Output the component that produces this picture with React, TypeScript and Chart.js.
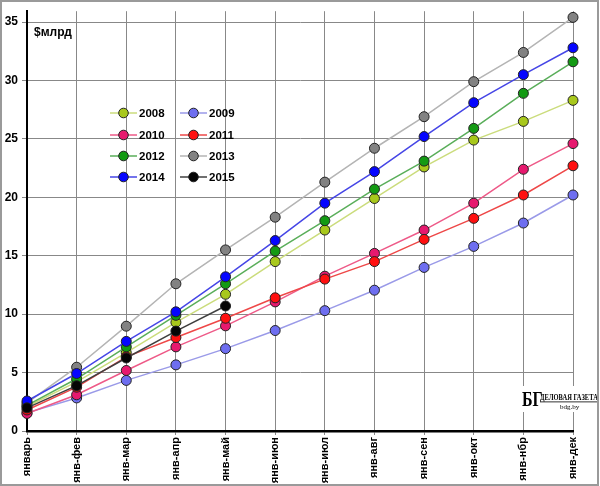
import { useRef, useEffect } from "react";
import Chart from "chart.js/auto";

const categories = [
  "январь", "янв-фев", "янв-мар", "янв-апр", "янв-май", "янв-июн",
  "янв-июл", "янв-авг", "янв-сен", "янв-окт", "янв-нбр", "янв-дек",
];

const years = ["2008", "2009", "2010", "2011", "2012", "2013", "2014", "2015"];

const s2008 = [2.1, 4.2, 6.7, 9.3, 11.7, 14.5, 17.2, 19.9, 22.6, 24.9, 26.5, 28.3];
const s2009 = [1.55, 2.83, 4.33, 5.66, 7.05, 8.6, 10.3, 12.05, 14.0, 15.8, 17.8, 20.2];
const s2010 = [1.5, 3.1, 5.18, 7.2, 9.0, 11.05, 13.25, 15.2, 17.2, 19.5, 22.4, 24.6];
const s2011 = [1.8, 3.75, 6.35, 8.0, 9.65, 11.4, 13.0, 14.5, 16.4, 18.2, 20.2, 22.7];
const s2012 = [2.2, 4.47, 7.2, 9.9, 12.6, 15.4, 18.0, 20.7, 23.1, 25.9, 28.9, 31.6];
const s2013 = [2.4, 5.46, 8.97, 12.6, 15.5, 18.3, 21.3, 24.2, 26.9, 29.9, 32.4, 35.4];
const s2014 = [2.57, 4.92, 7.67, 10.2, 13.2, 16.3, 19.5, 22.2, 25.2, 28.1, 30.5, 32.8];
const s2015 = [1.98, 3.88, 6.25, 8.55, 10.7];

const seriesValues = [s2008, s2009, s2010, s2011, s2012, s2013, s2014, s2015];

const markerColors = ["#a8c81c", "#6e6ef0", "#e6196e", "#ff1010", "#139a13", "#828282", "#0505ff", "#050505"];
const lineColors = ["#cbdc7c", "#9a9ae8", "#ee5a88", "#ee4848", "#5aae5a", "#b4b4b4", "#4646e6", "#404040"];

const yTicks = [0, 5, 10, 15, 20, 25, 30, 35];

const overlayPlugin = {
  id: "overlay",
  afterDraw(chart: any) {
    const ctx = chart.ctx as CanvasRenderingContext2D;
    ctx.save();

    // unit label
    ctx.fillStyle = "#000";
    ctx.font = "bold 12px 'Liberation Sans'";
    ctx.textBaseline = "middle";
    ctx.textAlign = "left";
    ctx.fillText("$млрд", 34, 33);

    // legend, two columns
    const rows = [113, 135, 156, 177];
    const cols = [110, 180];
    years.forEach((y, i) => {
      const cx = cols[i % 2];
      const cy = rows[Math.floor(i / 2)];
      ctx.strokeStyle = lineColors[i];
      ctx.lineWidth = 1.5;
      ctx.beginPath();
      ctx.moveTo(cx, cy);
      ctx.lineTo(cx + 27, cy);
      ctx.stroke();
      ctx.beginPath();
      ctx.arc(cx + 13.5, cy, 4.8, 0, Math.PI * 2);
      ctx.fillStyle = markerColors[i];
      ctx.fill();
      ctx.strokeStyle = "#222";
      ctx.lineWidth = 1;
      ctx.stroke();
      ctx.fillStyle = "#000";
      ctx.font = "bold 11.5px 'Liberation Sans'";
      ctx.fillText(y, cx + 29, cy + 0.5);
    });

    // logo
    ctx.fillStyle = "#fff";
    ctx.fillRect(520, 386, 78, 26);
    ctx.fillStyle = "#000";
    ctx.font = "bold 20px 'Liberation Serif'";
    ctx.textBaseline = "alphabetic";
    ctx.save();
    ctx.translate(522, 406);
    ctx.scale(0.8, 1);
    ctx.fillText("БГ", 0, 0);
    ctx.restore();
    ctx.save();
    ctx.translate(540, 400);
    ctx.scale(0.72, 1);
    ctx.font = "bold 9px 'Liberation Serif'";
    ctx.fillText("ДЕЛОВАЯ ГАЗЕТА", 0, 0);
    ctx.restore();
    ctx.fillRect(540, 401.5, 57, 0.8);
    ctx.font = "7px 'Liberation Serif'";
    ctx.fillText("bdg.by", 560, 409);

    // outer frame
    ctx.strokeStyle = "#9a9a9a";
    ctx.lineWidth = 2;
    ctx.strokeRect(1, 1, 597, 484);
    ctx.restore();
  },
};

export default function App() {
  const chartRef = useRef<HTMLCanvasElement | null>(null);
  const chartInstanceRef = useRef<Chart | null>(null);

  useEffect(() => {
    document.body.style.margin = "0";
    if (!chartRef.current) return;
    const ctx = chartRef.current.getContext("2d");
    if (!ctx) return;
    if (chartInstanceRef.current) chartInstanceRef.current.destroy();

    chartInstanceRef.current = new Chart(ctx, {
      type: "line",
      data: {
        labels: categories,
        datasets: years.map((y, i) => ({
          label: y,
          data: seriesValues[i],
          borderColor: lineColors[i],
          borderWidth: 1.5,
          backgroundColor: markerColors[i],
          pointBackgroundColor: markerColors[i],
          pointBorderColor: "#222",
          pointBorderWidth: 1,
          pointRadius: 5,
          tension: 0,
          fill: false,
          order: years.length - i,
        })),
      },
      options: {
        animation: false,
        responsive: true,
        maintainAspectRatio: false,
        layout: { padding: { top: 7, right: 27, bottom: 0, left: 0 } },
        plugins: {
          legend: { display: false },
          tooltip: { enabled: false },
        },
        scales: {
          x: {
            offset: false,
            grid: { color: "#888888", lineWidth: 1, tickLength: 4 },
            border: { display: true, color: "#000", width: 2.5 },
            ticks: {
              autoSkip: false,
              minRotation: 90,
              maxRotation: 90,
              color: "#000",
              padding: 2,
              font: { family: "'Liberation Sans'", size: 11, weight: "bold" },
            },
            afterFit: (scale: any) => {
              scale.height = 55;
            },
          },
          y: {
            min: 0,
            max: 35.93,
            grid: { color: "#888888", lineWidth: 1, tickLength: 5 },
            border: { display: true, color: "#000", width: 2 },
            afterBuildTicks: (scale: any) => {
              scale.ticks = yTicks.map((v) => ({ value: v }));
            },
            ticks: {
              color: "#000",
              padding: 4,
              font: { family: "'Liberation Sans'", size: 12, weight: "bold" },
            },
            afterFit: (scale: any) => {
              scale.width = 27;
            },
          },
        },
      } as any,
      plugins: [overlayPlugin],
    });

    return () => {
      if (chartInstanceRef.current) {
        chartInstanceRef.current.destroy();
        chartInstanceRef.current = null;
      }
    };
  });

  return (
    <div style={{ position: "absolute", left: 0, top: 0, width: 600, height: 486 }}>
      <canvas ref={chartRef} />
    </div>
  );
}
